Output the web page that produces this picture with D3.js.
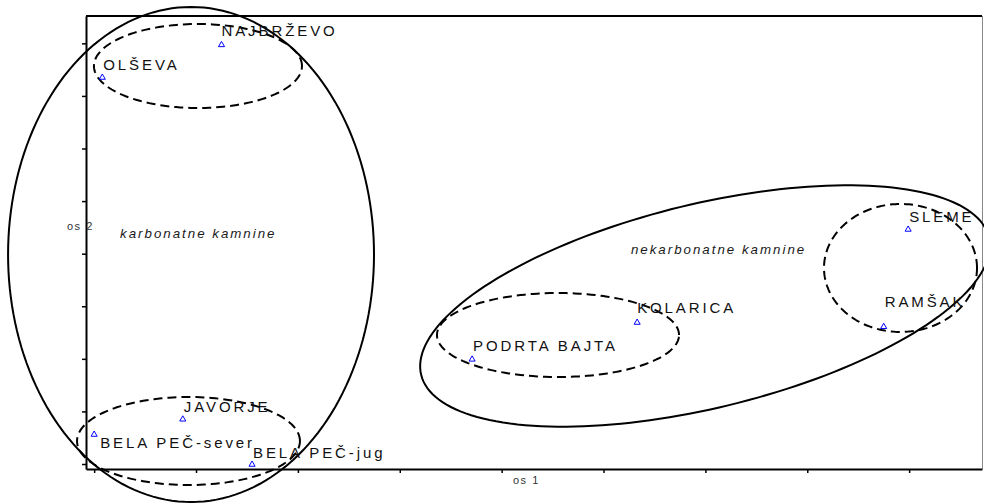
<!DOCTYPE html>
<html>
<head>
<meta charset="utf-8">
<script src="https://cdn.jsdelivr.net/npm/d3@7"></script>
<style>
  body { margin: 0; background: #fff; }
  text { font-family: 'Liberation Sans', Arial, Helvetica, sans-serif; }
</style>
</head>
<body>
<div id="chart"></div>
<script>
// site scores on the first two ordination axes
const sites = ['NAJBRŽEVO', 'OLŠEVA', 'JAVORJE', 'BELA PEČ-sever', 'BELA PEČ-jug',
  'KOLARICA', 'PODRTA BAJTA', 'SLEME', 'RAMŠAK']
const axis1 = [1.25, 0.08, 0.87, 0.0, 1.55, 5.33, 3.71, 7.99, 7.75]
const axis2 = [7.98, 7.36, 0.86, 0.57, 0.0, 2.70, 2.0, 4.47, 2.62]

const axisTicks = [0, 1, 2, 3, 4, 5, 6, 7, 8]

// group outlines in axis units: centre and two conjugate half-axes
const groupKind = ['group', 'group', 'sub', 'sub', 'sub', 'sub']
const groupCx = [0.951, 5.996, 1.019, 0.926, 4.553, 7.915]
const groupCy = [3.984, 3.005, 7.569, 0.437, 2.453, 3.728]
const groupU = [[1.796, 0], [2.786, 1.310], [1.021, 0], [1.094, 0], [1.188, 0], [0.751, 0]]
const groupV = [[0, 4.707], [0.2365, -1.885], [0, 0.799], [0, 0.837], [0, 0.799], [0, 1.217]]

const groupNames = ['karbonatne kamnine', 'nekarbonatne kamnine']
const groupNameX = [0.254, 5.269]
const groupNameY = [4.298, 3.994]

// label nudges (px) relative to the marker
const labelDx = [0, 1, 1, 6, 1, 0, 1, 1, 1]
const labelDy = [-8, -7, -7, 14, -6, -9, -8, -7, -19]

const width = 984, height = 503
const plot = {left: 86, right: 982, top: 16, bottom: 469}

const svg = d3.select('#chart')
  .append('svg')
  .attr('width', width)
  .attr('height', height)

const x = d3.scaleLinear().domain([-0.08, 8.715]).range([plot.left, plot.right])
const y = d3.scaleLinear().domain([-0.095, 8.52]).range([plot.bottom, plot.top])

// frame: top and right edges
svg.append('line')
  .attr('x1', plot.left).attr('x2', plot.right)
  .attr('y1', plot.top).attr('y2', plot.top)
  .attr('stroke', '#000').attr('stroke-width', 2)
svg.append('line')
  .attr('x1', plot.right + 0.5).attr('x2', plot.right + 0.5)
  .attr('y1', plot.top).attr('y2', plot.bottom)
  .attr('stroke', '#888').attr('stroke-width', 1)

const xAxis = svg.append('g')
  .attr('transform', 'translate(0,' + plot.bottom + ')')
  .call(d3.axisBottom(x).tickValues(axisTicks).tickFormat('').tickSize(4).tickSizeOuter(0))
xAxis.select('.domain').attr('stroke-width', 2)
xAxis.selectAll('.tick line').attr('stroke-width', 1.5)

const yAxis = svg.append('g')
  .attr('transform', 'translate(' + plot.left + ',0)')
  .call(d3.axisLeft(y).tickValues(axisTicks).tickFormat('').tickSize(4).tickSizeOuter(0))
yAxis.select('.domain').attr('stroke-width', 2)
yAxis.selectAll('.tick line').attr('stroke-width', 1.5)

svg.append('text')
  .attr('x', 513)
  .attr('y', 484)
  .text('os 1')
  .attr('fill', '#333')
  .style('font-size', '11px')
  .style('letter-spacing', '1.5px')

svg.append('text')
  .attr('x', 67)
  .attr('y', 230)
  .text('os 2')
  .attr('fill', '#333')
  .style('font-size', '11px')
  .style('letter-spacing', '1.5px')

// group ellipses
const ellipseLine = d3.line()
  .x(function(p) { return x(p[0]) })
  .y(function(p) { return y(p[1]) })
  .curve(d3.curveLinearClosed)

const steps = d3.range(0, 360, 2)
svg.selectAll('.group')
  .data(groupKind)
  .enter()
  .append('path')
  .attr('class', 'group')
  .attr('d', function(k, i) {
    const pts = steps.map(function(deg) {
      const t = deg * Math.PI / 180
      return [
        groupCx[i] + groupU[i][0] * Math.cos(t) + groupV[i][0] * Math.sin(t),
        groupCy[i] + groupU[i][1] * Math.cos(t) + groupV[i][1] * Math.sin(t)
      ]
    })
    return ellipseLine(pts)
  })
  .attr('fill', 'none')
  .attr('stroke', '#000')
  .attr('stroke-width', 2)
  .attr('stroke-dasharray', function(k) { return k === 'sub' ? '9,5' : null })

svg.selectAll('.groupName')
  .data(groupNames)
  .enter()
  .append('text')
  .attr('class', 'groupName')
  .attr('x', function(d, i) { return x(groupNameX[i]) })
  .attr('y', function(d, i) { return y(groupNameY[i]) })
  .text(function(d) { return d })
  .attr('fill', '#1a1a1a')
  .style('font-size', '13.3px')
  .style('font-style', 'italic')
  .style('letter-spacing', '2px')

// site markers
const tri = d3.symbol().type(d3.symbolTriangle).size(16)
svg.selectAll('.site')
  .data(sites)
  .enter()
  .append('path')
  .attr('class', 'site')
  .attr('d', tri)
  .attr('transform', function(d, i) {
    return 'translate(' + x(axis1[i]) + ',' + (y(axis2[i]) + 0.5) + ')'
  })
  .attr('fill', 'none')
  .attr('stroke', '#0000ff')
  .attr('stroke-width', 1)

svg.selectAll('.siteLabel')
  .data(sites)
  .enter()
  .append('text')
  .attr('class', 'siteLabel')
  .attr('x', function(d, i) { return x(axis1[i]) + labelDx[i] })
  .attr('y', function(d, i) { return y(axis2[i]) + labelDy[i] })
  .text(function(d) { return d })
  .attr('fill', '#111')
  .style('font-size', '15px')
  .style('letter-spacing', '2.9px')
</script>
</body>
</html>
